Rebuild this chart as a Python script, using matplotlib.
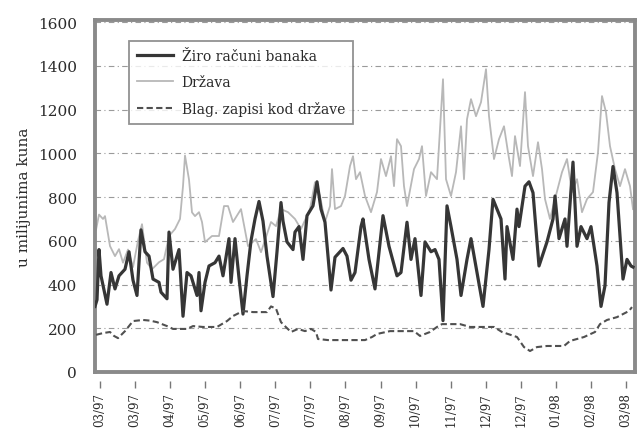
import numpy as np
import matplotlib
matplotlib.use('Agg')
import matplotlib.pyplot as plt

plt.rcParams['font.family'] = ['DejaVu Serif']

# business-day index and values (mil. kuna)
ziro_day = [0, 1, 2, 3, 6, 8, 10, 12, 15, 17, 19, 21, 23, 25, 27, 29, 32, 33, 36, 37,
            39, 42, 44, 46, 48, 51, 52, 53, 55, 57, 60, 62, 64, 67, 68, 70, 72, 74, 76, 78,
            80, 82, 84, 86, 89, 91, 93, 94, 96, 99, 100, 102, 104, 106, 109, 111, 113, 115, 118, 120,
            124, 126, 128, 130, 133, 134, 137, 140, 144, 147, 151, 153, 156, 158, 160, 163, 165, 168, 170, 172,
            174, 176, 178, 181, 183, 186, 188, 191, 194, 197, 199, 203, 205, 206, 209, 211, 212, 215, 217, 219,
            222, 226, 229, 230, 232, 235, 236, 239, 241, 243, 246, 248, 251, 253, 255, 257, 259, 261, 264, 266,
            268, 269]
ziro_val = [300, 330, 560, 440, 310, 455, 380, 440, 470, 550, 420, 350, 650, 550, 530, 425, 410, 365, 335, 640,
            470, 560, 255, 455, 440, 350, 455, 280, 410, 485, 500, 530, 440, 610, 410, 610, 430, 265, 440, 600,
            700, 780, 690, 530, 345, 550, 775, 690, 595, 560, 640, 665, 515, 715, 760, 870, 745, 685, 375, 525,
            565, 530, 420, 455, 665, 700, 515, 380, 715, 575, 440, 455, 685, 515, 610, 350, 595, 550, 560, 515,
            235, 760, 665, 515, 350, 515, 610, 455, 300, 560, 790, 700, 425, 665, 515, 745, 665, 850, 870, 820,
            485, 595, 700, 805, 610, 700, 575, 960, 575, 665, 610, 665, 485, 300, 395, 775, 940, 820, 425, 515,
            485, 480]

drzava_day = [0.5, 2, 4, 5, 7.5, 10, 12, 14, 16.5, 19, 21.5, 23.5, 26, 28.5, 32, 34.5, 37, 40, 42.5, 44,
              45, 47, 48.5, 50, 52, 53.5, 55, 58.5, 62, 64.5, 66.5, 69, 73, 76.5, 80.5, 83, 88, 90.5, 93, 96.5,
              100, 103, 107.5, 110, 112.5, 115, 117.5, 118.5, 120, 123, 125, 127.5, 129, 130.5, 132.5, 135, 138, 141, 143, 145.5,
              148, 149.5, 151, 153, 154.5, 156, 159.5, 162, 163.5, 165.5, 168, 171, 174, 175.5, 178, 180.5, 183, 184.5, 186, 188,
              190.5, 193, 195.5, 197, 199.5, 202, 204.5, 206.5, 208.5, 210, 212.5, 215, 216.5, 219, 221.5, 223.5, 225, 227.5, 230, 233.5,
              236, 238.5, 241, 243.5, 246, 249, 251.5, 253.5, 255.5, 257.5, 260, 262.5, 265, 267.5, 269]
drzava_val = [650, 720, 700, 713, 576, 530, 562, 500, 560, 480, 600, 676, 500, 470, 502, 516, 622, 654, 700, 850,
              990, 880, 730, 713, 731, 686, 594, 622, 622, 759, 759, 686, 745, 576, 608, 548, 686, 667, 745, 731,
              700, 654, 745, 868, 805, 686, 759, 928, 745, 759, 805, 942, 987, 882, 914, 805, 731, 823, 974, 896,
              987, 850, 1065, 1033, 850, 759, 928, 974, 1033, 805, 914, 882, 1339, 882, 805, 914, 1124, 882, 1156, 1248,
              1170, 1234, 1385, 1170, 974, 1065, 1124, 1005, 896, 1079, 942, 1280, 1033, 896, 1051, 928, 791, 700, 791, 914,
              974, 823, 882, 731, 791, 823, 1005, 1262, 1188, 1033, 928, 850, 928, 850, 745]

blag_day = [0.5, 4, 7.5, 9.5, 11.5, 15, 19, 24, 27.5, 31, 36, 39, 46, 49, 54, 61, 66, 69, 74, 79,
            86, 88, 90.5, 93, 95.5, 98, 101.5, 105, 108, 110.5, 111.5, 116.5, 135, 138.5, 141, 147.5, 159.5, 162.5, 167.5, 171,
            173.5, 182.5, 187.5, 199.5, 203.5, 211, 214.5, 217.5, 221, 226, 234.5, 237.5, 244.5, 250, 252.5, 256, 261, 267, 268.5]
blag_val = [170, 178, 183, 165, 155, 187, 233, 238, 235, 228, 210, 197, 197, 210, 206, 206, 233, 256, 279, 274,
            274, 300, 290, 228, 205, 183, 197, 187, 197, 183, 151, 146, 146, 160, 174, 187, 187, 165, 183, 206,
            219, 219, 206, 206, 183, 160, 114, 96, 114, 119, 119, 142, 160, 183, 219, 238, 251, 279, 297]

tick_labels = ['03/97', '03/97', '04/97', '05/97', '06/97', '07/97', '07/97', '08/97',
               '09/97', '10/97', '11/97', '12/97', '12/97', '01/98', '02/98', '03/98']

txt = '#2b2b2b'
frame = '#8a8a8a'

fig = plt.figure(figsize=(6.37, 4.31), dpi=100)
ax = fig.add_axes([95 / 637, 58 / 431, 540 / 637, 352 / 431])

ax.plot(drzava_day, drzava_val, color='#b8b8b8', lw=1.3, label='Država', zorder=2)
ax.plot(ziro_day, ziro_val, color='#363636', lw=2.3, label='Žiro računi banaka', zorder=3)
ax.plot(blag_day, blag_val, color='#505050', lw=1.5, ls=(0, (3, 1.6)), label='Blag. zapisi kod države', zorder=3)

ax.set_xlim(0, 270)
ax.set_ylim(0, 1610)
ax.set_yticks(range(0, 1601, 200))
ax.yaxis.grid(True, color='#9a9a9a', lw=0.8, ls=(0, (5, 3, 1, 3)))
ax.set_axisbelow(True)
ax.tick_params(axis='y', length=0, pad=13, labelsize=11, labelcolor=txt)
ax.set_xticks([])
for s in ax.spines.values():
    s.set_color(frame)
    s.set_linewidth(2.8)

# tick marks sit a little below the frame
sec = ax.secondary_xaxis(-0.025)
sec.spines['bottom'].set_visible(False)
sec.set_xticks(np.linspace(2.5, 265.5, 16))
sec.set_xticklabels(tick_labels, rotation=90, fontsize=8.5, color=txt)
sec.tick_params(length=5, width=1, color='#777777', pad=3)

ax.set_ylabel('u milijunima kuna', fontsize=11, color=txt, labelpad=5)

# legend order: Žiro first
h, l = ax.get_legend_handles_labels()
order = [1, 0, 2]
leg = ax.legend([h[i] for i in order], [l[i] for i in order], loc='upper left',
                bbox_to_anchor=(0.05, 0.96), fontsize=10, frameon=True, fancybox=False,
                edgecolor='#777777', handlelength=2.6, labelspacing=0.85, borderpad=0.6,
                handletextpad=0.6, labelcolor=txt)
leg.get_frame().set_linewidth(1.3)

fig.savefig('out.png', dpi=100)
